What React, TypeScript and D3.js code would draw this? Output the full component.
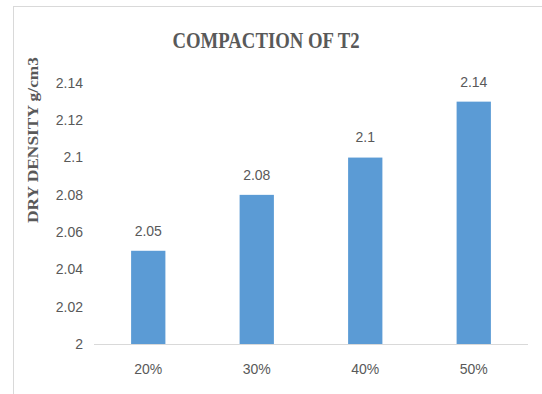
import React from "react";
import * as d3 from "d3";

const categories = ["20%", "30%", "40%", "50%"];
const values = [2.05, 2.08, 2.1, 2.13];
const dataLabels = ["2.05", "2.08", "2.1", "2.14"];
const yTicks = [2, 2.02, 2.04, 2.06, 2.08, 2.1, 2.12, 2.14];
const yTickLabels = ["2", "2.02", "2.04", "2.06", "2.08", "2.1", "2.12", "2.14"];
const title = "COMPACTION OF T2";
const yTitle = "DRY DENSITY g/cm3";

const W = 542;
const H = 394;
const plotLeft = 94;
const plotRight = 528;
const yBase = 344;
const yTop = 83;
const textColor = "#595959";
const sans = "'Liberation Sans', Arial, sans-serif";
const serif = "'Liberation Serif', 'Times New Roman', serif";

export default function App() {
  const x = d3
    .scaleBand<string>()
    .domain(categories)
    .range([plotLeft, plotRight])
    .paddingInner(0.684)
    .paddingOuter(0.342);
  const y = d3.scaleLinear().domain([2, 2.14]).range([yBase, yTop]);

  return (
    <svg
      width={W}
      height={H}
      style={{ position: "fixed", left: 0, top: 0, background: "#fff" }}
    >
      <rect x={0} y={0} width={W} height={H} fill="#fff" />
      <rect
        x={13.5}
        y={6.5}
        width={700}
        height={600}
        fill="none"
        stroke="#d9d9d9"
        strokeWidth={1}
      />
      <text
        x={266}
        y={47.5}
        textAnchor="middle"
        fontFamily={serif}
        fontWeight="bold"
        fontSize={24}
        fill={textColor}
        textLength={187}
        lengthAdjust="spacingAndGlyphs"
      >
        {title}
      </text>
      <text
        transform={`translate(37.5,140) rotate(-90)`}
        textAnchor="middle"
        fontFamily={serif}
        fontWeight="bold"
        fontSize={15}
        fill={textColor}
        textLength={166}
        lengthAdjust="spacingAndGlyphs"
      >
        {yTitle}
      </text>
      {yTicks.map((t, i) => (
        <text
          key={t}
          x={83}
          y={y(t)}
          dy="0.35em"
          textAnchor="end"
          fontFamily={sans}
          fontSize={14}
          fill={textColor}
        >
          {yTickLabels[i]}
        </text>
      ))}
      {categories.map((c, i) => (
        <rect
          key={c}
          x={x(c)!}
          y={y(values[i])}
          width={x.bandwidth()}
          height={yBase - y(values[i])}
          fill="#5b9bd5"
        />
      ))}
      <line
        x1={plotLeft}
        x2={plotRight}
        y1={yBase + 0.5}
        y2={yBase + 0.5}
        stroke="#d9d9d9"
        strokeWidth={1}
      />
      {categories.map((c, i) => (
        <text
          key={"l" + c}
          x={x(c)! + x.bandwidth() / 2}
          y={y(values[i]) - 20}
          dy="0.35em"
          textAnchor="middle"
          fontFamily={sans}
          fontSize={14}
          fill={textColor}
        >
          {dataLabels[i]}
        </text>
      ))}
      {categories.map((c) => (
        <text
          key={"x" + c}
          x={x(c)! + x.bandwidth() / 2}
          y={369}
          dy="0.35em"
          textAnchor="middle"
          fontFamily={sans}
          fontSize={14}
          fill={textColor}
        >
          {c}
        </text>
      ))}
    </svg>
  );
}
